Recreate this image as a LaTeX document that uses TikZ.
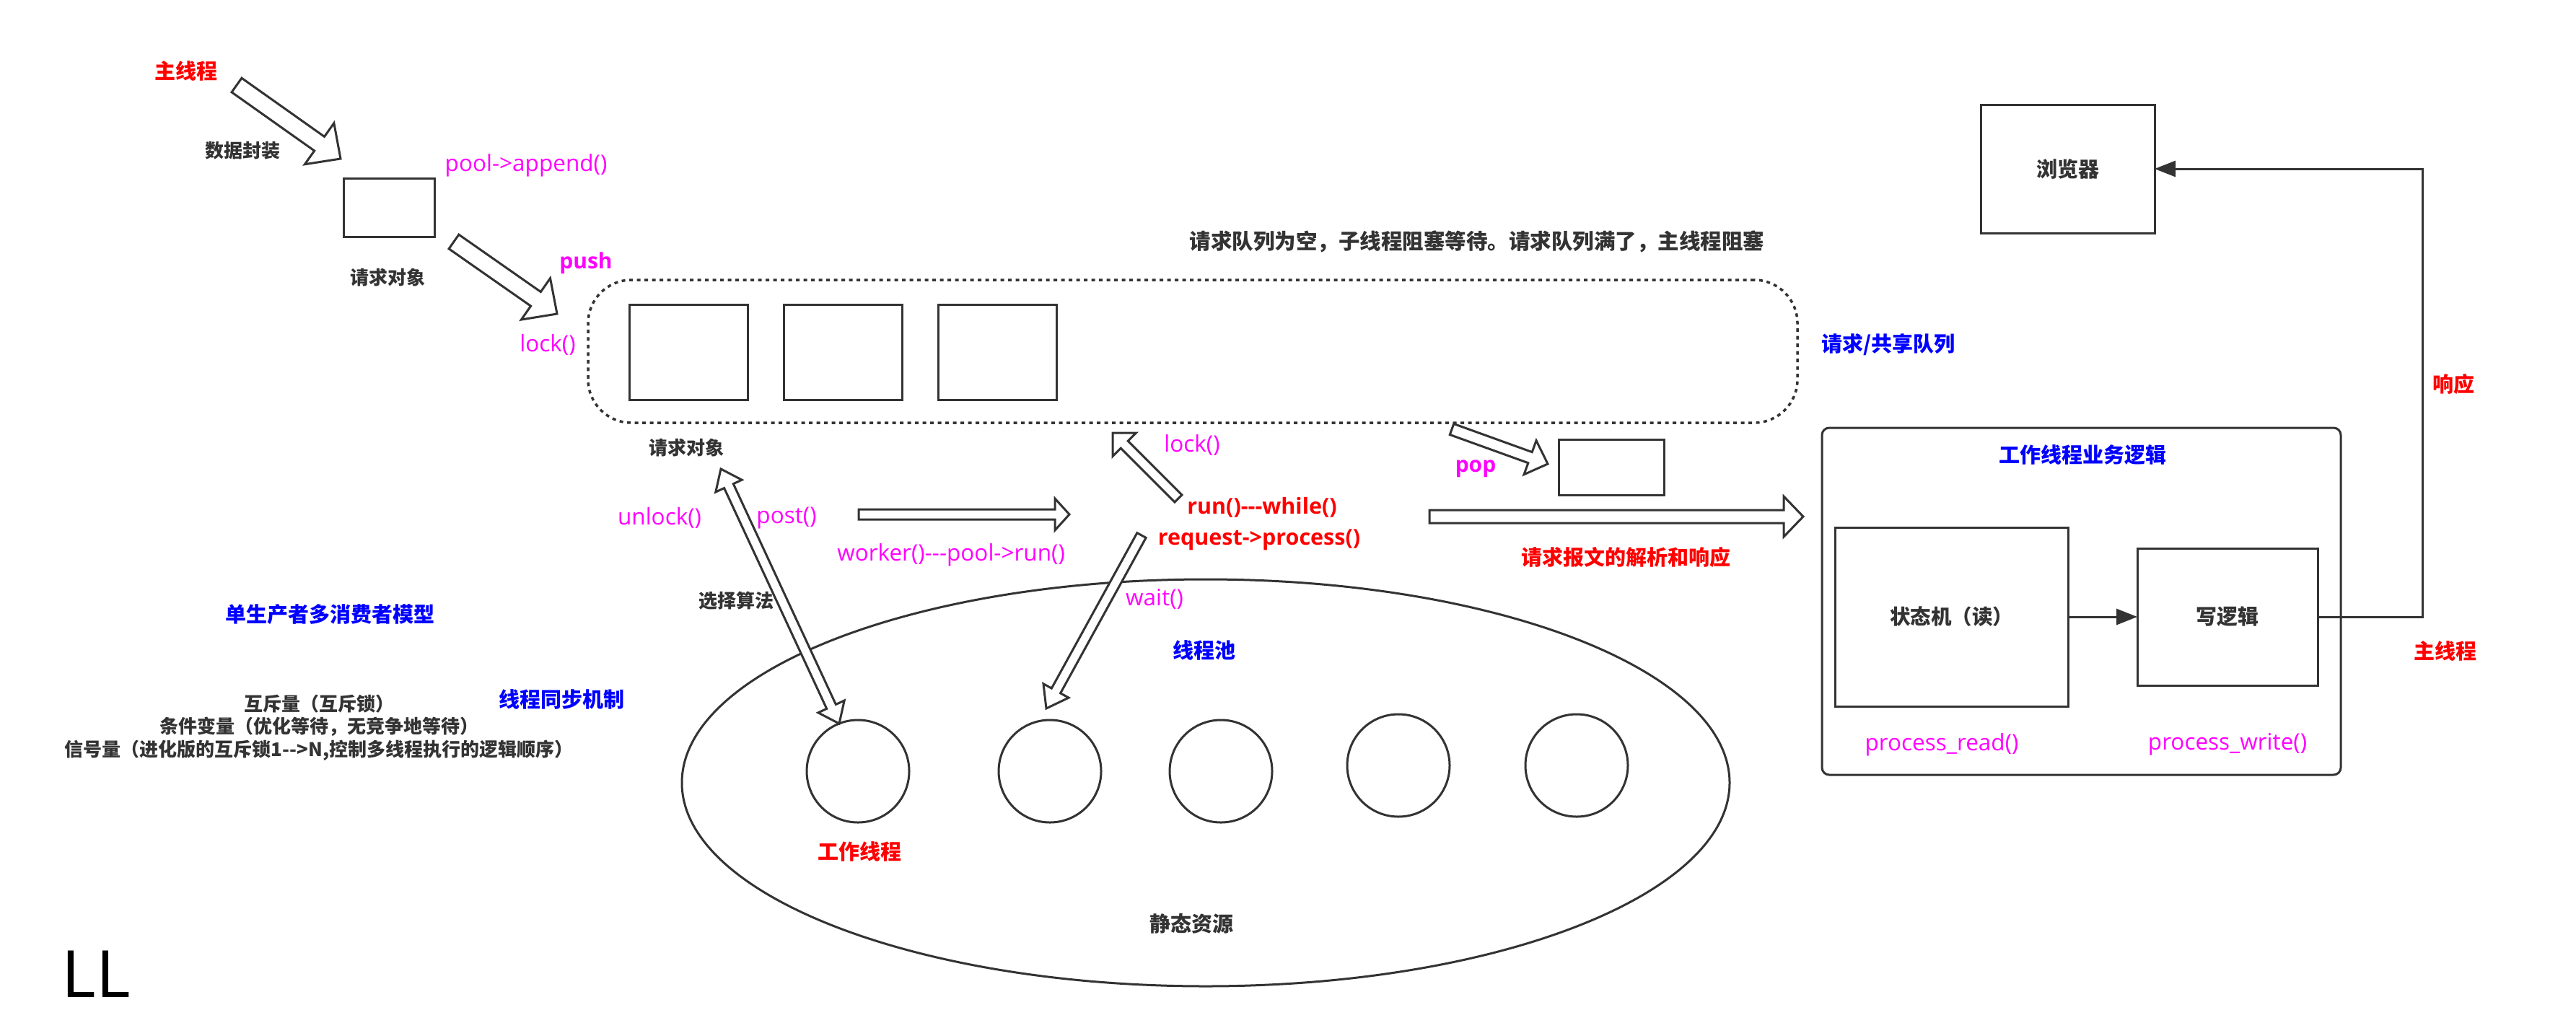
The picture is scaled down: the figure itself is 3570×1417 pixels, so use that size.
\documentclass[tikz,border=0pt]{standalone}
\usepackage{fontspec}
\setmainfont{Noto Sans CJK SC}[Ligatures=TeXOff]
\newfontfamily\latin{Open Sans}[Ligatures=TeXOff]
\usetikzlibrary{calc,arrows.meta,shapes.geometric}

\definecolor{ink}{HTML}{333333}
\definecolor{hred}{HTML}{FF0000}
\definecolor{hblue}{HTML}{0000FF}
\definecolor{hpink}{HTML}{FF00FF}

\tikzset{
  every node/.style={inner sep=0pt, outer sep=0pt},
  note/.style={text=ink, font=\bfseries\fontsize{26}{31.5}\selectfont},
  head/.style={font=\bfseries\fontsize{29}{35}\selectfont},
  redhd/.style={head, text=hred},
  bluehd/.style={head, text=hblue},
  call/.style={text=hpink, font=\latin\fontsize{31.5}{36}\selectfont},
  callbf/.style={text=hpink, font=\latin\bfseries\fontsize{30}{36}\selectfont},
  redcall/.style={text=hred, font=\latin\bfseries\fontsize{30.5}{36}\selectfont},
  box/.style={draw=ink, line width=3pt, fill=white},
  worker/.style={box, circle, minimum size=142pt},
  link/.style={draw=ink, line width=3pt, -{Triangle[length=29pt,width=22pt]}},
  % hollow block arrows
  fat w/.store in=\fatw, fat H/.store in=\fatH, fat h/.store in=\fath,
  fat w=12pt, fat H=35pt, fat h=36pt,
  fat/.style={draw=ink, line width=3pt, fill=white, line join=miter,
    to path={let \p1=(\tikztostart), \p2=(\tikztotarget),
      \n1={atan2(\y2-\y1,\x2-\x1)}, \n2={veclen(\x2-\x1,\y2-\y1)-\fath}
      in ($(\p1)+(\n1+90:\fatw)$)
      -- ($(\p1)+(\n1:\n2)+(\n1+90:\fatw)$)
      -- ($(\p1)+(\n1:\n2)+(\n1+90:\fatH)$)
      -- (\p2)
      -- ($(\p1)+(\n1:\n2)+(\n1-90:\fatH)$)
      -- ($(\p1)+(\n1:\n2)+(\n1-90:\fatw)$)
      -- ($(\p1)+(\n1-90:\fatw)$) -- cycle}},
  fatboth/.style={draw=ink, line width=3pt, fill=white, line join=miter,
    to path={let \p1=(\tikztostart), \p2=(\tikztotarget),
      \n1={atan2(\y2-\y1,\x2-\x1)}, \n2={veclen(\x2-\x1,\y2-\y1)-\fath}
      in (\p1)
      -- ($(\p1)+(\n1:\fath)+(\n1+90:\fatH)$)
      -- ($(\p1)+(\n1:\fath)+(\n1+90:\fatw)$)
      -- ($(\p1)+(\n1:\n2)+(\n1+90:\fatw)$)
      -- ($(\p1)+(\n1:\n2)+(\n1+90:\fatH)$)
      -- (\p2)
      -- ($(\p1)+(\n1:\n2)+(\n1-90:\fatH)$)
      -- ($(\p1)+(\n1:\n2)+(\n1-90:\fatw)$)
      -- ($(\p1)+(\n1:\fath)+(\n1-90:\fatw)$)
      -- ($(\p1)+(\n1:\fath)+(\n1-90:\fatH)$) -- cycle}},
}

\begin{document}
\begin{tikzpicture}[x=1pt,y=-1pt]
\path[use as bounding box, fill=white] (0,0) rectangle (3570,1417);

% 主线程 -> 请求对象 -> 队列
\node[redhd] (main) at (258,98) {主线程};
\node[note] (pack) at (336,209) {数据封装};
\node[box, minimum width=126pt, minimum height=81pt] (req) at (539,287.5) {};
\node[call] (append) at (729,229) {pool->append()};
\node[note] (reqlbl) at (537,385) {请求对象};
\node[callbf] (push) at (812,365) {push};
\node[call] (lock) at (759,478) {lock()};

% 请求队列
\node[draw=ink, line width=3.5pt, dash pattern=on 5pt off 5.5pt, rounded corners=60pt,
      minimum width=1676pt, minimum height=198pt] (queue) at (1653,487) {};
\foreach \x [count=\i] in {954,1168.5,1382}
  \node[box, minimum width=164pt, minimum height=132pt] (q\i) at (\x,488) {};
\node[note, font=\bfseries\fontsize{29.5}{35}\selectfont] (tip) at (2047,335)
  {请求队列为空，子线程阻塞等待。请求队列满了，主线程阻塞};
\node[bluehd] (qname) at (2617,478) {请求/共享队列};
\node[note] (reqlbl2) at (951,621) {请求对象};

% 线程池
\node[box, ellipse, minimum width=1452pt, minimum height=564pt] (pool) at (1671,1085) {};
\node[bluehd] (poolname) at (1669,901) {线程池};
\foreach \x/\y [count=\i] in {1189/1069,1455/1069,1692/1069,1938/1061,2185/1061}
  \node[worker] (w\i) at (\x,\y) {};
\node[redhd] (wlbl) at (1191,1180) {工作线程};
\node[note, font=\bfseries\fontsize{29}{35}\selectfont] (static) at (1651,1280) {静态资源};

% 取请求
\node[call] (unlock) at (914,718) {unlock()};
\node[call] (post) at (1090,718) {post()};
\node[note] (algo) at (1020,833) {选择算法};
\node[call] (run) at (1318,769) {worker()---pool->run()};
\node[call] (lock2) at (1652,617) {lock()};
\node[redcall] (loop) at (1749,703) {run()---while()};
\node[redcall] (proc) at (1745,748) {request->process()};
\node[call] (wait) at (1600,830) {wait()};
\node[callbf] (pop) at (2045,650) {pop};
\node[box, minimum width=146pt, minimum height=77pt] (popbox) at (2233,647.5) {};
\node[redhd] (parse) at (2253,772) {请求报文的解析和响应};

% 左下说明
\node[bluehd] (model) at (457,852) {单生产者多消费者模型};
\node[bluehd] (sync) at (778,969) {线程同步机制};
\node[note, align=center, anchor=north] (prims) at (442,963)
  {互斥量（互斥锁）\\条件变量（优化等待，无竞争地等待）\\信号量（进化版的互斥锁1-->N,控制多线程执行的逻辑顺序）};
\node[font=\fontsize{88}{88}\selectfont] (sig) at (133,1350) {LL};

% 工作线程业务逻辑
\node[draw=ink, line width=3pt, rounded corners=10pt, minimum width=719pt,
      minimum height=481pt] (logic) at (2884.5,833.5) {};
\node[bluehd] (logicname) at (2886,631) {工作线程业务逻辑};
\node[box, note, font=\bfseries\fontsize{28.5}{35}\selectfont, minimum width=323pt,
      minimum height=248pt] (fsm) at (2704.5,855) {状态机（读）};
\node[box, note, font=\bfseries\fontsize{29}{35}\selectfont, minimum width=250pt,
      minimum height=190pt] (wr) at (3087,855) {写逻辑};
\node[call] (pread) at (2691,1032) {process\_read()};
\node[call] (pwrite) at (3087,1032) {process\_write()};
\node[box, note, font=\bfseries\fontsize{29}{35}\selectfont, minimum width=241pt,
      minimum height=178pt] (browser) at (2865.5,234) {浏览器};
\node[redhd] (resp) at (3400,532) {响应};
\node[redhd] (main2) at (3389,902) {主线程};
\coordinate (c1) at (3357,855);
\coordinate (c2) at (3357,234);
\draw[link] (fsm) -- (wr);
\draw[link] (wr.east) -- (c1) -- (c2) -- (browser.east);

% 空心箭头
\coordinate (a1s) at (328,118);   \coordinate (a1e) at (472,220);
\coordinate (a2s) at (629,335);   \coordinate (a2e) at (772,435);
\coordinate (ds) at (999,650);    \coordinate (de) at (1163,1003);
\coordinate (rs) at (1190,713);   \coordinate (re) at (1482,713);
\coordinate (ls) at (1633,691);   \coordinate (le) at (1542,600);
\coordinate (ws) at (1582,742);   \coordinate (we) at (1450,982);
\coordinate (ps) at (2012,595);   \coordinate (pe) at (2145,643);
\coordinate (hs) at (1981,716);   \coordinate (he) at (2499,716);
\draw[fat] (a1s) to (a1e);
\draw[fat] (a2s) to (a2e);
\draw[fatboth, fat w=7pt, fat H=20pt, fat h=26pt] (ds) to (de);
\draw[fat, fat w=7pt, fat H=22pt, fat h=20pt] (rs) to (re);
\draw[fat, fat w=7pt, fat H=23pt, fat h=23pt] (ls) to (le);
\draw[fat, fat w=7pt, fat H=20pt, fat h=28pt] (ws) to (we);
\draw[fat, fat w=8pt, fat H=25pt, fat h=26pt] (ps) to (pe);
\draw[fat, fat w=9pt, fat H=28pt, fat h=27pt] (hs) to (he);
\end{tikzpicture}
\end{document}
